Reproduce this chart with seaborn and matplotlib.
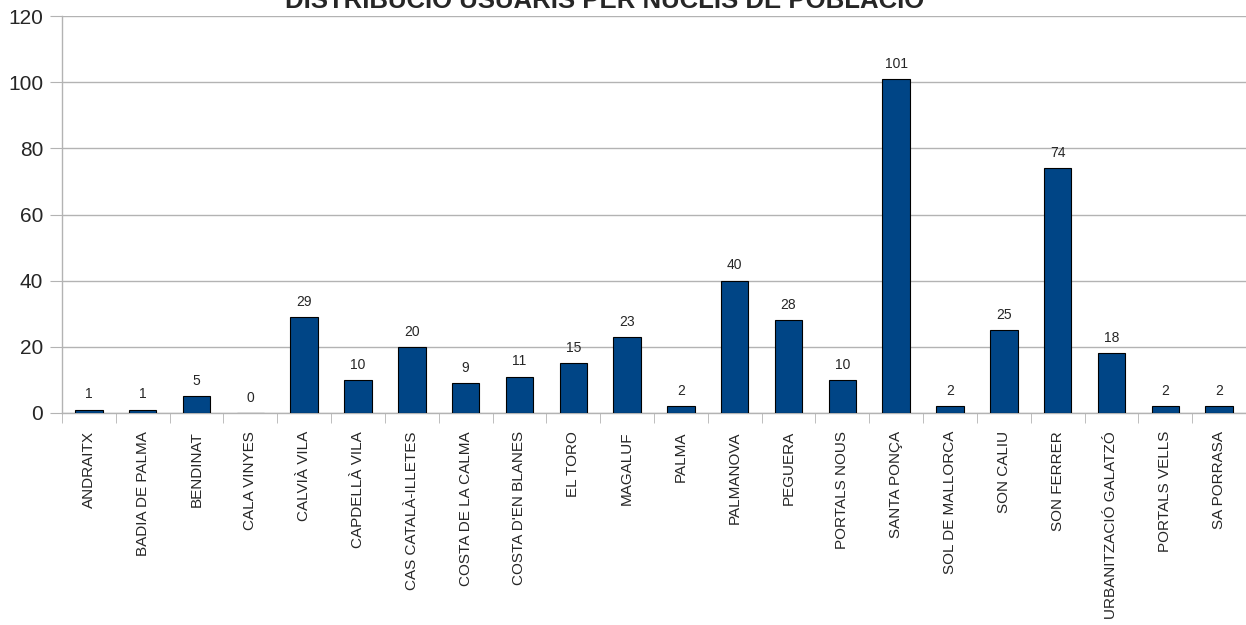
import matplotlib
matplotlib.use("Agg")
import matplotlib.pyplot as plt
import seaborn as sns
import pandas as pd
import numpy as np

categories = ["ANDRAITX", "BADIA DE PALMA", "BENDINAT", "CALA VINYES", "CALVIÀ VILA",
              "CAPDELLÀ VILA", "CAS CATALÀ-ILLETES", "COSTA DE LA CALMA", "COSTA D'EN BLANES",
              "EL TORO", "MAGALUF", "PALMA", "PALMANOVA", "PEGUERA", "PORTALS NOUS",
              "SANTA PONÇA", "SOL DE MALLORCA", "SON CALIU", "SON FERRER",
              "URBANITZACIÓ GALATZÓ", "PORTALS VELLS", "SA PORRASA"]
values = [1, 1, 5, 0, 29, 10, 20, 9, 11, 15, 23, 2, 40, 28, 10, 101, 2, 25, 74, 18, 2, 2]
title = "DISTRIBUCIÓ USUARIS PER NUCLIS DE POBLACIÓ"
yticks = [0, 20, 40, 60, 80, 100, 120]

sns.set_style("white")
plt.rcParams['font.family'] = ['Liberation Sans', 'DejaVu Sans']

df = pd.DataFrame({"cat": categories, "val": values})

fig = plt.figure(figsize=(12.46, 6.25), dpi=100)
ax = fig.add_axes([62/1246, 1-413/625, 1-62/1246, (413-16)/625])

sns.barplot(data=df, x="cat", y="val", color="#004586", saturation=1,
            width=0.51, edgecolor="black", linewidth=0.8, ax=ax, zorder=3)

ax.set_ylim(0, 120)
ax.set_xlim(-0.5, len(categories) - 0.5)
ax.set_yticks(yticks)
ax.set_yticklabels([str(t) for t in yticks], fontsize=15)
ax.yaxis.grid(True, color="#b3b3b3", linewidth=1, zorder=0)
ax.set_axisbelow(True)
ax.set_xlabel("")
ax.set_ylabel("")

for s in ["top", "right"]:
    ax.spines[s].set_visible(False)
for s in ["left", "bottom"]:
    ax.spines[s].set_color("#b3b3b3")
    ax.spines[s].set_linewidth(1)

ax.tick_params(axis="y", which="major", length=8.5, color="#b3b3b3", pad=5, left=True)
ax.set_xticks(range(len(categories)))
ax.set_xticklabels(categories, rotation=90, fontsize=11, va="top", ha="center")
ax.tick_params(axis="x", which="major", length=0, pad=13)
ax.set_xticks(np.arange(-0.5, len(categories), 1), minor=True)
ax.tick_params(axis="x", which="minor", length=7.5, color="#b3b3b3", bottom=True)

for c in ax.containers:
    ax.bar_label(c, labels=[str(v) for v in values], padding=6, fontsize=10)

fig.text(605/1246, 1 - 7.5/625, title, fontsize=18.5, fontweight="bold",
         ha="center", va="baseline")

fig.savefig("out.png", dpi=100)
